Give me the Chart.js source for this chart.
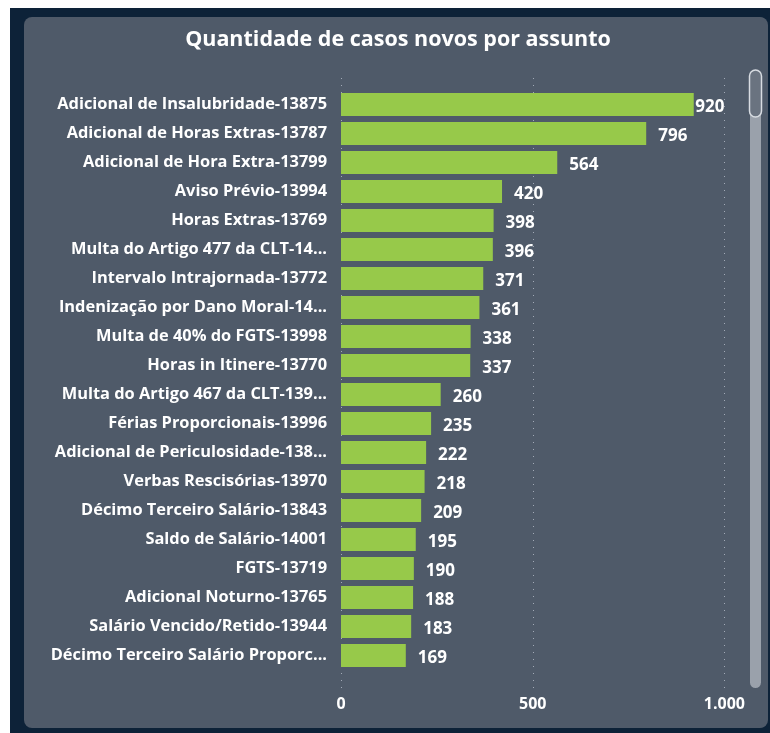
<!DOCTYPE html>
<html>
<head>
<meta charset="utf-8">
<script src="https://cdn.jsdelivr.net/npm/chart.js@4/dist/chart.umd.min.js"></script>
<style>
  html, body { margin: 0; padding: 0; background: #ffffff; }
  #outer { position: absolute; left: 10px; top: 8px; width: 760px; height: 725px; background: #0d2238; }
  #panel { position: absolute; left: 24px; top: 17px; width: 744px; height: 711px; background: #4f5a69; border-radius: 8px; }
  #wrap { position: absolute; left: 0; top: 0; width: 770px; height: 733px; }
</style>
</head>
<body>
<div id="outer"></div>
<div id="panel"></div>
<div id="wrap"><canvas id="myChart"></canvas></div>
<script>
// assuntos (labels already truncated like in the report)
const assuntos = [
  'Adicional de Insalubridade-13875',
  'Adicional de Horas Extras-13787',
  'Adicional de Hora Extra-13799',
  'Aviso Prévio-13994',
  'Horas Extras-13769',
  'Multa do Artigo 477 da CLT-14...',
  'Intervalo Intrajornada-13772',
  'Indenização por Dano Moral-14...',
  'Multa de 40% do FGTS-13998',
  'Horas in Itinere-13770',
  'Multa do Artigo 467 da CLT-139...',
  'Férias Proporcionais-13996',
  'Adicional de Periculosidade-138...',
  'Verbas Rescisórias-13970',
  'Décimo Terceiro Salário-13843',
  'Saldo de Salário-14001',
  'FGTS-13719',
  'Adicional Noturno-13765',
  'Salário Vencido/Retido-13944',
  'Décimo Terceiro Salário Proporc...'
]
const casosNovos = [920, 796, 564, 420, 398, 396, 371, 361, 338, 337, 260, 235, 222, 218, 209, 195, 190, 188, 183, 169]
const xTicks = [0, 500, 1000]
const titulo = 'Quantidade de casos novos por assunto'

const FONT = "'Open Sans', 'Noto Sans', sans-serif"

// title drawn by hand so it can sit centered on the whole panel
const titlePlugin = {
  id: 'panelTitle',
  afterDraw(chart) {
    const ctx = chart.ctx
    ctx.save()
    ctx.font = 'bold 21.5px ' + FONT
    ctx.fillStyle = '#ffffff'
    ctx.textAlign = 'center'
    ctx.textBaseline = 'middle'
    ctx.fillText(titulo, 398, 40)
    ctx.restore()
  }
}

// dotted grid lines (longer than chart area, like power bi)
const gridPlugin = {
  id: 'dottedGrid',
  beforeDatasetsDraw(chart) {
    const ctx = chart.ctx
    const x = chart.scales.x
    const area = chart.chartArea
    ctx.save()
    ctx.strokeStyle = 'rgba(190,198,210,0.75)'
    ctx.lineWidth = 1
    ctx.setLineDash([1, 6])
    xTicks.forEach(t => {
      const px = Math.round(x.getPixelForValue(t)) + 0.5
      ctx.beginPath()
      ctx.moveTo(px, area.top - 12)
      ctx.lineTo(px, area.bottom + 18)
      ctx.stroke()
    })
    ctx.restore()
  }
}

// value labels at the end of each bar
const valuePlugin = {
  id: 'valueLabels',
  afterDatasetsDraw(chart) {
    const ctx = chart.ctx
    const meta = chart.getDatasetMeta(0)
    const limit = chart.chartArea.right
    ctx.save()
    ctx.font = 'bold 17px ' + FONT
    ctx.fillStyle = '#ffffff'
    ctx.textBaseline = 'middle'
    ctx.textAlign = 'left'
    meta.data.forEach((bar, i) => {
      const txt = String(casosNovos[i])
      const w = ctx.measureText(txt).width
      let tx = bar.x + 12
      if (tx + w > limit) tx = limit - w
      ctx.fillText(txt, tx, bar.y + 3)
    })
    ctx.restore()
  }
}

// fake scrollbar on the right
const scrollPlugin = {
  id: 'scrollBar',
  afterDraw(chart) {
    const ctx = chart.ctx
    ctx.save()
    ctx.fillStyle = '#9aa1ab'
    ctx.beginPath()
    ctx.roundRect(750, 72, 11, 616, 5.5)
    ctx.fill()
    ctx.fillStyle = '#6a7380'
    ctx.strokeStyle = '#d8dce2'
    ctx.lineWidth = 1.5
    ctx.beginPath()
    ctx.roundRect(749.5, 70, 12, 47, 6)
    ctx.fill()
    ctx.stroke()
    ctx.restore()
  }
}

const ctx = document.getElementById('myChart').getContext('2d')
const myChart = new Chart(ctx, {
  type: 'bar',
  data: {
    labels: assuntos,
    datasets: [{
      data: casosNovos,
      backgroundColor: '#97c94a',
      categoryPercentage: 0.8,
      barPercentage: 1.0
    }]
  },
  options: {
    indexAxis: 'y',
    responsive: true,
    maintainAspectRatio: false,
    animation: false,
    layout: { padding: { left: 0, right: 42, top: 90, bottom: 0 } },
    plugins: {
      legend: { display: false },
      tooltip: { enabled: false },
      title: { display: false }
    },
    scales: {
      x: {
        min: 0,
        max: 1000,
        afterBuildTicks: s => { s.ticks = xTicks.map(v => ({ value: v })) },
        grid: { display: false, drawTicks: false },
        border: { display: false },
        ticks: {
          color: '#ffffff',
          padding: 25,
          font: { family: FONT, size: 16, weight: 'bold' },
          callback: v => v.toLocaleString('pt-BR')
        },
        afterFit: s => { s.height = 63 }
      },
      y: {
        grid: { display: false, drawTicks: false },
        border: { display: false },
        ticks: {
          color: '#ffffff',
          padding: 14,
          autoSkip: false,
          font: { family: FONT, size: 16.4, weight: 'bold' }
        },
        afterFit: s => { s.width = 341 }
      }
    }
  },
  plugins: [gridPlugin, valuePlugin, scrollPlugin, titlePlugin]
})
</script>
</body>
</html>
